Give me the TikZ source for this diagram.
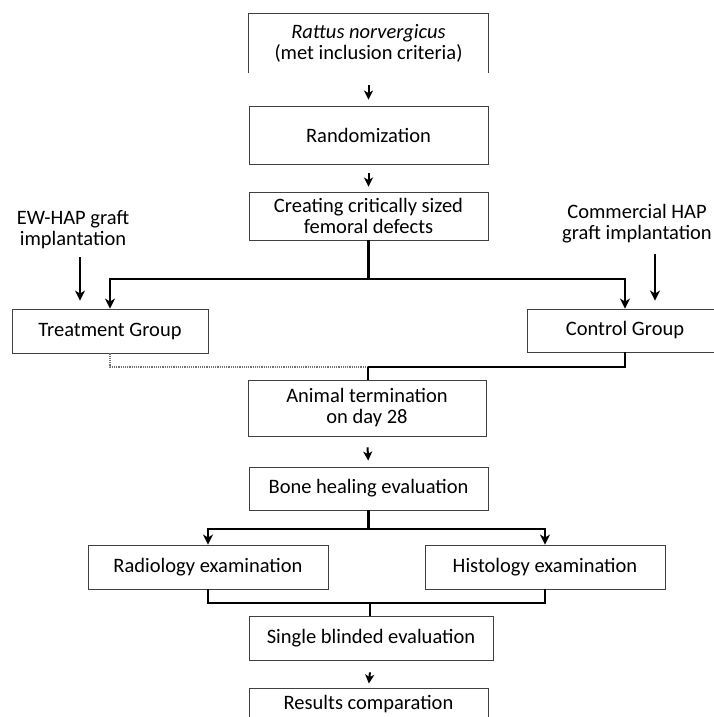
\documentclass[tikz,border=0pt]{standalone}
\usepackage{fontspec}
\setmainfont{Carlito}
\usetikzlibrary{arrows.meta}

\begin{document}
\begin{tikzpicture}[
  x=1pt, y=-1pt,
  every node/.style={font=\fontsize{20.5}{21}\selectfont, align=center, inner sep=0pt},
]
%-------------------------------------------------------------
% Custom colors
\newcommand{\coloriBox}{black!75}
\newcommand{\coloriLink}{black}
\newcommand{\coloriFaint}{black!55}

\tikzset{box/.style={draw=\coloriBox, line width=0.9pt, minimum width=239pt}}
\tikzset{boxline/.style={draw=\coloriBox, line width=0.9pt}}
\tikzset{link/.style={draw=\coloriLink, line width=2.4pt}}
\tikzset{linkthin/.style={draw=\coloriLink, line width=1.2pt}}
\tikzset{linkto/.style={link, -{Stealth[length=10pt,width=10pt,inset=3pt]}}}
\tikzset{stepto/.style={draw=\coloriLink, line width=2pt, -{Stealth[length=9pt,width=9pt,inset=2.5pt]}}}
\tikzset{faint/.style={draw=\coloriFaint, line width=1.2pt, densely dotted}}

\useasboundingbox (0,0) rectangle (713,717);

%-------------------------------------------------------------
% Main boxes
\node (rat) at (368.5,43.5) [minimum width=239pt, minimum height=59pt]
  {\textit{Rattus norvergicus}\\(met inclusion criteria)};
\draw[boxline] (rat.south west) -- (rat.north west) -- (rat.north east) -- (rat.south east);
\node[box, minimum height=58pt] (rand) at (368.5,135) {Randomization};
\node[box, minimum height=48pt] (defect) at (368.5,216) {Creating critically sized\\femoral defects};
\node[box, minimum width=196pt, minimum height=44pt] (treat) at (110,331) {Treatment Group};
\node[box, minimum width=196pt, minimum height=43pt] (ctrl) at (625,330.5) {Control Group};
\node[box, minimum width=238pt, minimum height=56pt] (animal) at (367,408) {Animal termination\\on day 28};
\node[box, minimum height=43pt] (bone) at (368.5,488.5) {Bone healing evaluation};
\node[box, minimum width=240pt, minimum height=44pt] (radio) at (208,567) {Radiology examination};
\node[box, minimum width=240pt, minimum height=44pt] (histo) at (545,567) {Histology examination};
\node[box, minimum width=244pt, minimum height=44pt] (single) at (371,638) {Single blinded evaluation};
\node[box, minimum height=32pt] (result) at (368.5,704) {Results comparation};

% Side labels
\node (ew) at (73,230) {EW-HAP graft\\implantation};
\node (com) at (637,224) {Commercial HAP\\graft implantation};

%-------------------------------------------------------------
% Helper points
\coordinate (split1) at (369,279);
\coordinate (join1) at (368,367);
\coordinate (split2) at (369,529);
\coordinate (join2) at (370,603);

%-------------------------------------------------------------
% Connectors
\draw[stepto, shorten <=12pt, shorten >=6pt] (rat.south) -- (rand.north);
\draw[stepto, shorten <=9pt, shorten >=5pt] (rand.south) -- (defect.north);

\draw[link] (defect.south) -- (defect.south |- split1);
\draw[linkto] (split1) -| (treat.north);
\draw[linkto] (split1) -| (ctrl.north);
\draw[linkto, shorten <=8pt, shorten >=8pt] ([xshift=7pt]ew.south) -- ([xshift=7pt]ew.south |- treat.north);
\draw[linkto, shorten <=10pt, shorten >=8pt] ([xshift=18pt]com.south) -- ([xshift=18pt]com.south |- ctrl.north);

\draw[faint] (treat.south) |- (join1);
\draw[link] (ctrl.south) |- (join1);
\draw[linkthin] (join1) -- (join1 |- animal.north);

\draw[stepto, shorten <=11pt, shorten >=6pt] (animal.south) -- (bone.north);

\draw[link] (bone.south) -- (bone.south |- split2);
\draw[linkto] (split2) -| (radio.north);
\draw[linkto] (split2) -| (histo.north);

\draw[link] (radio.south) |- (join2) -| (histo.south);
\draw[linkthin] (join2) -- (join2 |- single.north);

\draw[stepto, shorten <=12pt, shorten >=4pt] (single.south) -- (result.north);

\end{tikzpicture}
\end{document}
